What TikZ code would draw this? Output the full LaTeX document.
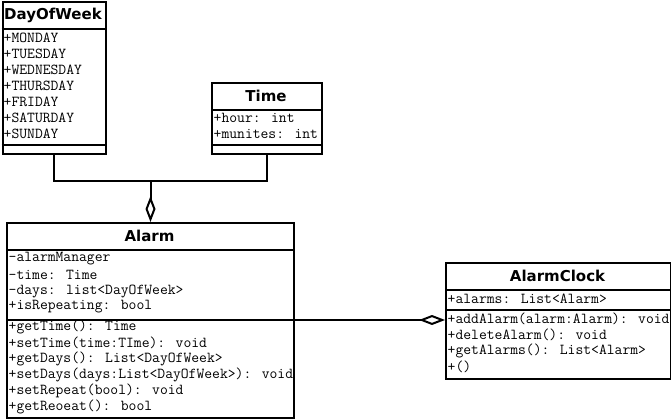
\documentclass[tikz,border=0pt]{standalone}
\usepackage{fontspec}
\usetikzlibrary{arrows.meta}
\newfontfamily\titlefam{DejaVu Sans}
\begin{document}
\begin{tikzpicture}[
    x=1pt,y=-1pt,
    classbox/.style={draw,line width=2pt,inner sep=0pt,anchor=north west},
    sepline/.style={line width=2pt},
    member/.style={anchor=west,inner sep=0pt,font=\ttfamily\fontsize{15.2pt}{16pt}\selectfont},
    classname/.style={inner sep=0pt,font=\titlefam\bfseries\fontsize{15pt}{17pt}\selectfont},
    link/.style={line width=2pt},
    aggr/.style={-{Diamond[open,length=26pt,width=10pt,line width=2pt]}}
]
    \fill[white] (0,0) rectangle (671,419);
    \useasboundingbox (0,0) rectangle (671,419);
    % DayOfWeek
    \node[classbox,minimum width=103pt,minimum height=151.5pt] (dow) at (1.5,1.5) {};
    \draw[sepline] (1.5,29) -- (104.5,29) (1.5,145) -- (104.5,145);
    \node[classname] (downame) at (53,15) {DayOfWeek};
    \node[member] (mon) at (3.5,38) {+MONDAY};
    \node[member] (tue) at (3.5,54) {+TUESDAY};
    \node[member] (wed) at (3.5,70) {+WEDNESDAY};
    \node[member] (thu) at (3.5,86) {+THURSDAY};
    \node[member] (fri) at (3.5,102) {+FRIDAY};
    \node[member] (sat) at (3.5,118) {+SATURDAY};
    \node[member] (sun) at (3.5,134) {+SUNDAY};
    % Time
    \node[classbox,minimum width=110pt,minimum height=71pt] (time) at (211,82) {};
    \draw[sepline] (211,110) -- (321,110) (211,145) -- (321,145);
    \node[classname] (timename) at (266,96) {Time};
    \node[member] (hour) at (213.5,118) {+hour: int};
    \node[member] (minutes) at (213.5,134) {+munites: int};
    % Alarm
    \node[classbox,minimum width=287pt,minimum height=195pt] (alarm) at (6,222) {};
    \draw[sepline] (6,250) -- (293,250) (6,320) -- (293,320);
    \node[classname] (alarmname) at (149.5,236) {Alarm};
    \node[member] (manager) at (8.5,259) {-alarmManager};
    \node[member] (atime) at (8.5,275) {-time: Time};
    \node[member] (days) at (8.5,291) {-days: list<DayOfWeek>};
    \node[member] (repeating) at (8.5,307) {+isRepeating: bool};
    \node[member] (gettime) at (8.5,327) {+getTime(): Time};
    \node[member] (settime) at (8.5,343) {+setTime(time:TIme): void};
    \node[member] (getdays) at (8.5,359) {+getDays(): List<DayOfWeek>};
    \node[member] (setdays) at (8.5,375) {+setDays(days:List<DayOfWeek>): void};
    \node[member] (setrepeat) at (8.5,391) {+setRepeat(bool): void};
    \node[member] (getrepeat) at (8.5,407) {+getReoeat(): bool};
    % AlarmClock
    \node[classbox,minimum width=225pt,minimum height=116pt] (clock) at (445,262) {};
    \draw[sepline] (445,290) -- (670,290) (445,310) -- (670,310);
    \node[classname] (clockname) at (557.5,276) {AlarmClock};
    \node[member] (alarms) at (447.5,299) {+alarms: List<Alarm>};
    \node[member] (addalarm) at (447.5,319) {+addAlarm(alarm:Alarm): void};
    \node[member] (delalarm) at (447.5,335) {+deleteAlarm(): void};
    \node[member] (getalarms) at (447.5,351) {+getAlarms(): List<Alarm>};
    \node[member] (empty) at (447.5,367) {+()};
    % links
    \coordinate (joint) at (alarm.north |- 0,181);
    \draw[link] (dow.south) |- (joint) -| (time.south);
    \draw[link,aggr] (joint) -- (alarm.north);
    \draw[link,aggr] (alarm.east |- 0,320) -- (clock.west |- 0,320);
\end{tikzpicture}
\end{document}
